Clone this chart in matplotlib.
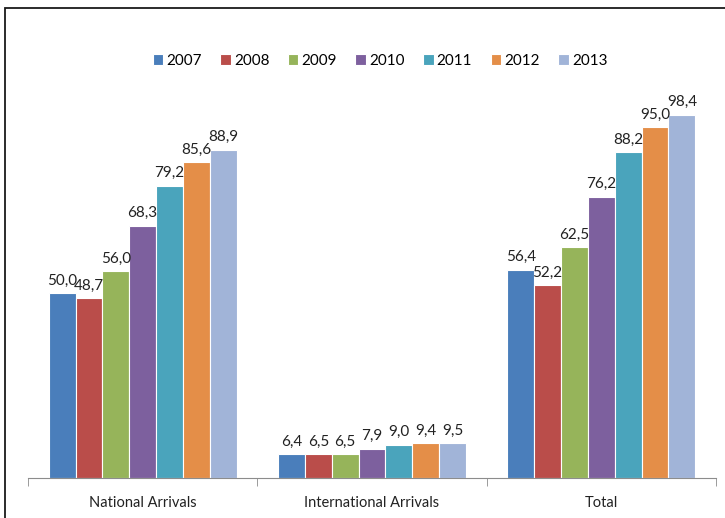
import matplotlib

matplotlib.use("Agg")
import matplotlib.pyplot as plt
import numpy as np
from matplotlib.patches import Rectangle

categories = ["National Arrivals", "International Arrivals", "Total"]
years = ["2007", "2008", "2009", "2010", "2011", "2012", "2013"]
values = {
    "2007": [50.0, 6.4, 56.4],
    "2008": [48.7, 6.5, 52.2],
    "2009": [56.0, 6.5, 62.5],
    "2010": [68.3, 7.9, 76.2],
    "2011": [79.2, 9.0, 88.2],
    "2012": [85.6, 9.4, 95.0],
    "2013": [88.9, 9.5, 98.4],
}
colors = ["#4A7EBB", "#BA4D4A", "#96B45A", "#7D609E", "#4AA4BC", "#E48E48", "#A1B4D8"]

plt.rcParams["font.family"] = ["Lato", "DejaVu Sans"]

W, H = 725, 518
fig = plt.figure(figsize=(W / 100, H / 100), dpi=100)
ax = fig.add_axes([28 / W, (H - 478) / H, (716 - 28) / W, 406 / H])

x = np.arange(len(categories))
group = 0.82
bw = group / len(years)
for i, (yr, col) in enumerate(zip(years, colors)):
    pos = x - group / 2 + bw * (i + 0.5)
    bars = ax.bar(pos, values[yr], width=bw, color=col, edgecolor="white",
                  linewidth=0.8, label=yr)
    for b, v in zip(bars, values[yr]):
        ax.text(b.get_x() + b.get_width() / 2, v + 1.5, f"{v:.1f}".replace(".", ","),
                ha="center", va="bottom", fontsize=11, color="#222222")

ax.set_xlim(-0.5, 2.5)
ax.set_ylim(0, 110)
ax.set_yticks([])
for s in ["top", "right", "left"]:
    ax.spines[s].set_visible(False)
ax.spines["bottom"].set_color("#8c8c8c")
ax.set_xticks(x)
ax.set_xticklabels(categories, fontsize=10.5, color="#222222")
ax.tick_params(axis="x", which="major", length=0, pad=13)
ax.set_xticks([-0.5, 0.5, 1.5, 2.5], minor=True)
ax.tick_params(axis="x", which="minor", length=6, color="#8c8c8c")

fig.legend(loc="center", bbox_to_anchor=(380 / W, 1 - 61 / H), ncol=7,
           frameon=False, fontsize=11, handlelength=0.7, handleheight=0.7,
           handletextpad=0.2, columnspacing=1.2)

# outer chart frame (left and top edges visible)
fig.patches.append(Rectangle((5 / W, -0.1), 1.2, 1 - 8 / H + 0.1,
                             transform=fig.transFigure, fill=False,
                             edgecolor="#1a1a1a", linewidth=1.3))

fig.savefig("out.png", dpi=100)
